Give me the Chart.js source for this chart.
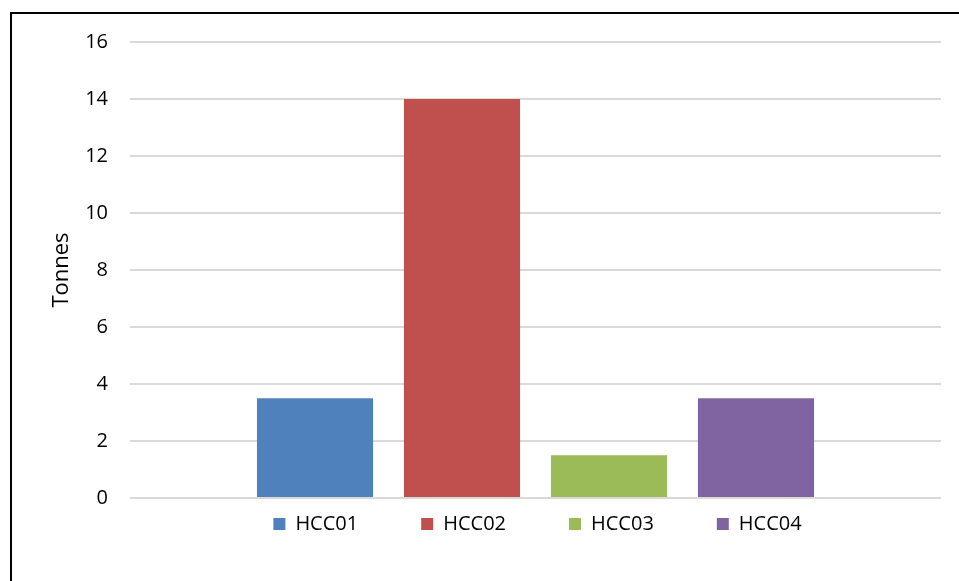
<!DOCTYPE html>
<html>
<head>
<meta charset="utf-8">
<script src="https://cdn.jsdelivr.net/npm/chart.js@4/dist/chart.umd.min.js"></script>
<style>
  html, body { margin: 0; padding: 0; background: #fff; }
  #wrap { position: relative; width: 959px; height: 581px; overflow: hidden; }
  #frame { position: absolute; left: 10px; top: 12px; width: 980px; height: 600px;
           border-left: 2px solid #000; border-top: 2px solid #000; }
  #chart { position: absolute; left: 0; top: 0; }
</style>
</head>
<body>
<div id="wrap">
  <div id="frame"></div>
  <canvas id="chart" width="959" height="581"></canvas>
</div>
<script>
const categories = [''];
const seriesNames = ['HCC01', 'HCC02', 'HCC03', 'HCC04'];
const seriesValues = [3.5, 14, 1.5, 3.5];
const seriesColors = ['#4F81BD', '#C0504D', '#9BBB59', '#8064A2'];
const yTicks = [0, 2, 4, 6, 8, 10, 12, 14, 16];

const fontFamily = "'Open Sans', 'Liberation Sans', sans-serif";

const datasets = seriesNames.map((name, i) => ({
    label: name,
    data: [seriesValues[i]],
    backgroundColor: seriesColors[i],
    borderWidth: 0,
    barPercentage: 0.79,
    categoryPercentage: 0.725
}));

// wide horizontal gaps between legend items, but keep the row tucked under the axis
const legendNudge = {
    id: 'legendNudge',
    afterLayout(chart) {
        const lg = chart.legend;
        lg.top -= 47;
        lg.bottom -= 47;
        lg.left += 47;
        lg.right += 47;
    }
};

new Chart(document.getElementById('chart'), {
    type: 'bar',
    data: { labels: categories, datasets },
    plugins: [legendNudge],
    options: {
        responsive: false,
        animation: false,
        layout: { padding: { left: 40, right: 18, top: 42, bottom: -10 } },
        plugins: {
            tooltip: { enabled: false },
            legend: {
                position: 'bottom',
                labels: {
                    boxWidth: 12,
                    boxHeight: 12,
                    padding: 63,
                    color: '#000',
                    font: { family: fontFamily, size: 20 }
                }
            }
        },
        scales: {
            x: { display: false },
            y: {
                min: 0,
                max: 16,
                afterBuildTicks: scale => { scale.ticks = yTicks.map(v => ({ value: v })); },
                afterFit: scale => { scale.width = 90; },
                border: { display: false },
                grid: { color: '#D9D9D9', lineWidth: 2, drawTicks: false },
                ticks: {
                    padding: 22,
                    color: '#000',
                    font: { family: fontFamily, size: 20 }
                },
                title: {
                    display: true,
                    text: 'Tonnes',
                    color: '#000',
                    padding: { top: 9, bottom: 0 },
                    font: { family: fontFamily, size: 22 }
                }
            }
        }
    }
});
</script>
</body>
</html>
